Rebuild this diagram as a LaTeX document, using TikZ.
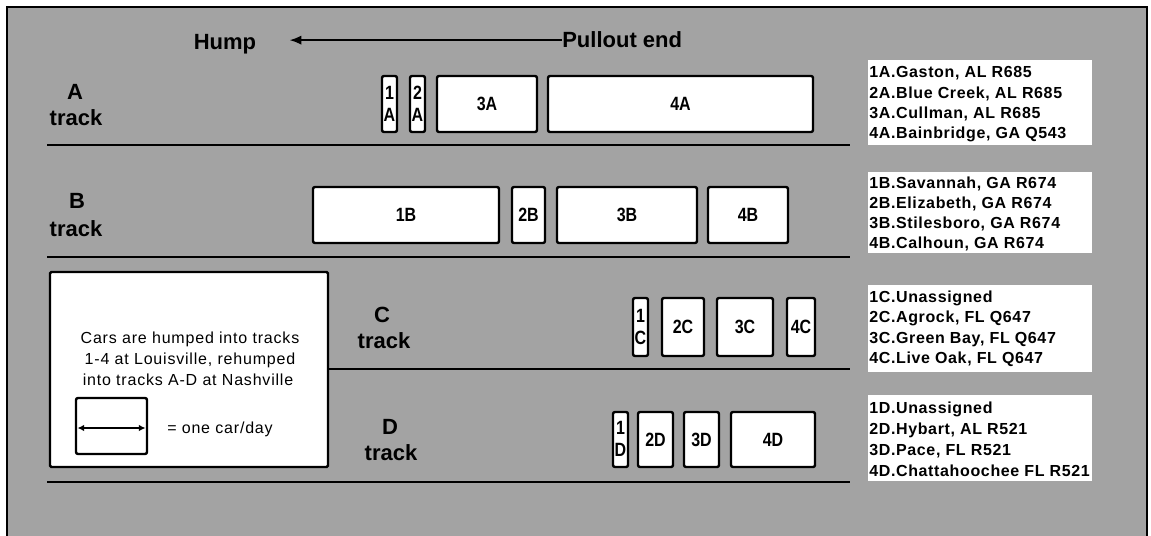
\documentclass[tikz,border=0pt]{standalone}
\usepackage{fontspec}
\usepackage{graphicx}
\setmainfont{Liberation Sans}
\newfontfamily\listfont[LetterSpace=4]{Liberation Sans}
\newfontfamily\legfont[LetterSpace=5]{Liberation Sans}
\usetikzlibrary{arrows.meta}
\definecolor{bggray}{gray}{0.64}
\newcommand\carbx[6]{%
  \draw[carbox] (#2,#3) rectangle (#4,#5);
  \node[carlab] (#1) at ({(#2+#4)/2},{(#3+#5)/2}) {\scalebox{1}[1.2]{#6}};
}
\newcommand\narbx[7]{%
  \draw[carbox] (#2,#3) rectangle (#4,#5);
  \node[carlab] (#1) at ({(#2+#4)/2},{(#3+#5)/2-11.5}) {\scalebox{1}[1.2]{#6}};
  \node[carlab] (#1b) at ({(#2+#4)/2},{(#3+#5)/2+10.5}) {\scalebox{1}[1.2]{#7}};
}
\begin{document}
\begin{tikzpicture}[x=0.75pt,y=-0.75pt,
  carbox/.style={draw=black,fill=white,line width=1.8pt,rounded corners=1.5pt},
  carlab/.style={font=\fontsize{12}{14}\selectfont\bfseries,inner sep=0pt},
  head/.style={font=\fontsize{16.5}{18}\selectfont\bfseries,inner sep=0pt},
  listtxt/.style={font=\listfont\fontsize{12}{14}\selectfont\bfseries,inner sep=0pt,anchor=base west},
  legtxt/.style={font=\legfont\fontsize{12}{14}\selectfont,inner sep=0pt},
  listbg/.style={fill=white},
  sepline/.style={line width=2pt},
  humparrow/.style={line width=1.5pt,-{Latex[length=9pt,width=7pt]}},
  legarrow/.style={line width=1.5pt,{Latex[length=5pt,width=5pt]}-{Latex[length=5pt,width=5pt]}},
  legbox/.style={draw=black,fill=white,line width=1.8pt,rounded corners=1pt}]
\useasboundingbox (0,0) rectangle (1151,535);
% background and frame
\fill[bggray] (7,7) rectangle (1147,540);
\draw[line width=1.5pt] (7,540) -- (7,7) -- (1147,7) -- (1147,540);

% header
\node[head,anchor=base] (hump) at (225,50) {Hump};
\node[head,anchor=base west] (pull) at (562,48) {Pullout end};
\draw[humparrow] (pull.west) -- ([xshift=24.75pt]hump.east |- pull.west);

% separator lines
\draw[sepline] (47,145) -- (850,145);
\draw[sepline] (47,257) -- (850,257);
\draw[sepline] (328,369) -- (850,369);
\draw[sepline] (47,482) -- (850,482);

% track labels
\node[head] (lblA) at (75,92) {A};
\node[head] (trkA) at (76,118) {track};
\node[head] (lblB) at (77,201) {B};
\node[head] (trkB) at (76,229) {track};
\node[head] (lblC) at (382,315) {C};
\node[head] (trkC) at (384,341) {track};
\node[head] (lblD) at (390,427) {D};
\node[head] (trkD) at (391,453) {track};

% track A cars
\narbx{c1A}{382}{76}{397}{132}{1}{A}
\narbx{c2A}{410}{76}{425}{132}{2}{A}
\carbx{c3A}{437}{76}{537}{132}{3A}
\carbx{c4A}{548}{76}{813}{132}{4A}
% track B cars
\carbx{c1B}{313}{187}{499}{243}{1B}
\carbx{c2B}{512}{187}{545}{243}{2B}
\carbx{c3B}{557}{187}{697}{243}{3B}
\carbx{c4B}{708}{187}{788}{243}{4B}
% track C cars
\narbx{c1C}{633}{298}{648}{356}{1}{C}
\carbx{c2C}{662}{298}{704}{356}{2C}
\carbx{c3C}{717}{298}{773}{356}{3C}
\carbx{c4C}{787}{298}{815}{356}{4C}
% track D cars
\narbx{c1D}{613}{412}{628}{467}{1}{D}
\carbx{c2D}{638}{412}{673}{467}{2D}
\carbx{c3D}{684}{412}{719}{467}{3D}
\carbx{c4D}{731}{412}{815}{467}{4D}

% destination lists
\fill[listbg] (868,60) rectangle (1092,145);
\node[listtxt] (l1A) at (869,78) {1A.Gaston, AL R685};
\node[listtxt] (l2A) at (869,98) {2A.Blue Creek, AL R685};
\node[listtxt] (l3A) at (869,118) {3A.Cullman, AL R685};
\node[listtxt] (l4A) at (869,138) {4A.Bainbridge, GA Q543};

\fill[listbg] (868,172) rectangle (1092,253);
\node[listtxt] (l1B) at (869,188) {1B.Savannah, GA R674};
\node[listtxt] (l2B) at (869,208) {2B.Elizabeth, GA R674};
\node[listtxt] (l3B) at (869,228) {3B.Stilesboro, GA R674};
\node[listtxt] (l4B) at (869,248) {4B.Calhoun, GA R674};

\fill[listbg] (868,285) rectangle (1092,372);
\node[listtxt] (l1C) at (869,302) {1C.Unassigned};
\node[listtxt] (l2C) at (869,322) {2C.Agrock, FL Q647};
\node[listtxt] (l3C) at (869,343) {3C.Green Bay, FL Q647};
\node[listtxt] (l4C) at (869,363) {4C.Live Oak, FL Q647};

\fill[listbg] (868,395) rectangle (1092,481);
\node[listtxt] (l1D) at (869,413) {1D.Unassigned};
\node[listtxt] (l2D) at (869,434) {2D.Hybart, AL R521};
\node[listtxt] (l3D) at (869,455) {3D.Pace, FL R521};
\node[listtxt] (l4D) at (869,476) {4D.Chattahoochee FL R521};

% legend
\draw[legbox] (50,272) rectangle (328,467);
\node[legtxt,anchor=base] (leg1) at (190,343) {Cars are humped into tracks};
\node[legtxt,anchor=base] (leg2) at (190,364) {1-4 at Louisville, rehumped};
\node[legtxt,anchor=base] (leg3) at (188,385) {into tracks A-D at Nashville};
\draw[carbox] (76,398) rectangle (147,454);
\coordinate (legL) at (77.5,428);
\coordinate (legR) at (145.5,428);
\draw[legarrow] (legL) -- (legR);
\node[legtxt,anchor=base west] (legeq) at (167,433) {= one car/day};
\end{tikzpicture}
\end{document}
